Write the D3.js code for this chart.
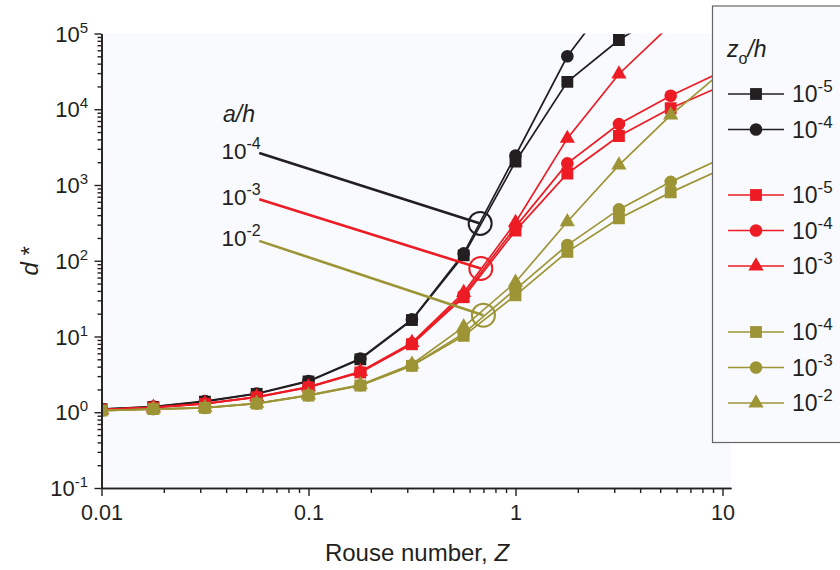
<!DOCTYPE html>
<html>
<head>
<meta charset="utf-8">
<script src="https://cdn.jsdelivr.net/npm/d3@7"></script>
<style>
  body { margin: 0; background: #fff; }
  svg { display: block; font-family: Arial, "Liberation Sans", Helvetica, sans-serif; }
</style>
</head>
<body>
<svg id="chart" width="840" height="570"></svg>
<script>
// ---- data ----
const Z = [0.01, 0.0178, 0.0316, 0.0562, 0.1, 0.178, 0.316, 0.562, 1, 1.78, 3.16, 5.62, 10];

// a/h = 1e-4 (black)
const black_zo1e5 = [1.1, 1.18, 1.38, 1.75, 2.55, 5.0, 16.5, 118, 2030, 23000, 82000, 220000, 600000];
const black_zo1e4 = [1.1, 1.19, 1.4, 1.77, 2.59, 5.12, 16.8, 125, 2450, 50000, 400000, 2000000, 10000000];
// a/h = 1e-3 (red)
const red_zo1e5 = [1.08, 1.15, 1.29, 1.57, 2.12, 3.35, 7.9, 33, 250, 1420, 4430, 10300, 20600];
const red_zo1e4 = [1.08, 1.16, 1.3, 1.59, 2.15, 3.4, 8.1, 35, 280, 1930, 6370, 15100, 31700];
const red_zo1e3 = [1.08, 1.16, 1.3, 1.6, 2.16, 3.45, 8.3, 38, 320, 4120, 29200, 130000, 500000];
// a/h = 1e-2 (olive)
const olive_zo1e4 = [1.05, 1.1, 1.14, 1.3, 1.66, 2.25, 4.1, 10.2, 35, 131, 362, 799, 1640];
const olive_zo1e3 = [1.05, 1.1, 1.14, 1.3, 1.67, 2.27, 4.15, 11, 42, 161, 476, 1100, 2270];
const olive_zo1e2 = [1.05, 1.1, 1.15, 1.31, 1.68, 2.3, 4.3, 13.4, 52, 327, 1830, 8380, 31600];

// annotation (a/h labels): line start and circled crossing point, in data units
const annotLabels = ["-4", "-3", "-2"];
const annotStartZ = [0.0578, 0.0578, 0.0578];
const annotStartD = [2640, 648, 183];
const annotCircleZ = [0.675, 0.68, 0.70];
const annotCircleD = [311, 79, 19.1];

const xTickValues = [0.01, 0.1, 1, 10];
const xTickLabels = ["0.01", "0.1", "1", "10"];
const yTickExps = [-1, 0, 1, 2, 3, 4, 5];

// ---- styles ----
const BLACK = "#231f20", RED = "#ed1c24", OLIVE = "#9d9436";
const BG = "#f8fafd";

const series = [
  { v: black_zo1e5, c: BLACK, s: d3.symbolSquare, lab: "-5" },
  { v: black_zo1e4, c: BLACK, s: d3.symbolCircle, lab: "-4" },
  null,
  { v: red_zo1e5, c: RED, s: d3.symbolSquare, lab: "-5" },
  { v: red_zo1e4, c: RED, s: d3.symbolCircle, lab: "-4" },
  { v: red_zo1e3, c: RED, s: d3.symbolTriangle, lab: "-3" },
  null,
  { v: olive_zo1e4, c: OLIVE, s: d3.symbolSquare, lab: "-4" },
  { v: olive_zo1e3, c: OLIVE, s: d3.symbolCircle, lab: "-3" },
  { v: olive_zo1e2, c: OLIVE, s: d3.symbolTriangle, lab: "-2" },
];
const annotColors = [BLACK, RED, OLIVE];
const symSize = s => s === d3.symbolSquare ? 140 : s === d3.symbolCircle ? 125 : 100;

const L = 101.5, R = 731, T = 33.5, B = 488;
const x = d3.scaleLog().domain([0.01, Math.pow(10, -2 + 3 * (R - L) / (722.5 - L))]).range([L, R]);
const y = d3.scaleLog().domain([0.1, 1e5]).range([B, T]);

const svg = d3.select("#chart");
svg.append("defs").append("clipPath").attr("id", "clip")
  .append("rect").attr("x", L).attr("y", T).attr("width", R - L).attr("height", B - T);

svg.append("rect").attr("x", L).attr("y", T).attr("width", R - L).attr("height", B - T).attr("fill", BG);

// ---- data series ----
const plot = svg.append("g").attr("clip-path", "url(#clip)");
const line = d3.line().x(d => x(d[0])).y(d => y(d[1]));
series.filter(s => s).forEach(s => {
  const pts = Z.map((z, i) => [z, s.v[i]]);
  plot.append("path").attr("d", line(pts)).attr("fill", "none")
    .attr("stroke", s.c).attr("stroke-width", 1.7);
  plot.selectAll(null).data(pts).enter().append("path")
    .attr("d", d3.symbol().type(s.s).size(symSize(s.s)))
    .attr("transform", d => `translate(${x(d[0])},${y(d[1])})`)
    .attr("fill", s.c);
});

// ---- annotation ----
svg.append("text").attr("x", 223).attr("y", 122).attr("font-size", 23)
  .attr("font-style", "italic").attr("fill", BLACK).text("a/h");
annotLabels.forEach((lab, i) => {
  const x0 = x(annotStartZ[i]), y0 = y(annotStartD[i]);
  const x1 = x(annotCircleZ[i]), y1 = y(annotCircleD[i]);
  svg.append("line").attr("x1", x0).attr("y1", y0).attr("x2", x1).attr("y2", y1)
    .attr("stroke", annotColors[i]).attr("stroke-width", 2.6);
  svg.append("circle").attr("cx", x1).attr("cy", y1).attr("r", 11.5)
    .attr("fill", "none").attr("stroke", annotColors[i]).attr("stroke-width", 2);
  const t = svg.append("text").attr("x", 221.5).attr("y", y0 + 5.6).attr("font-size", 22.5).attr("fill", BLACK);
  t.append("tspan").text("10");
  t.append("tspan").attr("dy", -10).attr("font-size", 16).text(lab);
});

// ---- axes ----
const AX = BLACK;
const gx = svg.append("g").attr("transform", `translate(0,${B})`);
const xMinor = [];
[0.01, 0.1, 1].forEach(b => { for (let k = 2; k <= 9; k++) xMinor.push(b * k); });
gx.call(d3.axisBottom(x).tickValues(xMinor).tickSize(5).tickSizeOuter(0).tickFormat(""));
gx.call(g => g.append("g").call(d3.axisBottom(x).tickValues(xTickValues).tickSize(8).tickSizeOuter(0)
  .tickFormat((d, i) => xTickLabels[i])));
gx.selectAll("path.domain").attr("stroke", AX).attr("stroke-width", 1.6);
gx.selectAll(".tick line").attr("stroke", AX).attr("stroke-width", 1.4);
gx.selectAll(".tick text").attr("font-size", 21.5).attr("fill", BLACK)
  .attr("font-family", "Arial, 'Liberation Sans', sans-serif").attr("dy", null).attr("y", 32);

const gy = svg.append("g").attr("transform", `translate(${L},0)`);
const yMinor = [];
yTickExps.slice(0, -1).forEach(e => { for (let k = 2; k <= 9; k++) yMinor.push(k * Math.pow(10, e)); });
gy.call(d3.axisLeft(y).tickValues(yMinor).tickSize(4).tickSizeOuter(0).tickFormat(""));
gy.call(g => g.append("g").call(d3.axisLeft(y).tickValues(yTickExps.map(e => Math.pow(10, e)))
  .tickSize(7).tickSizeOuter(0).tickFormat("")));
gy.selectAll("path.domain").attr("stroke", AX).attr("stroke-width", 1.6);
gy.selectAll(".tick line").attr("stroke", AX).attr("stroke-width", 1.4);
yTickExps.forEach(e => {
  const t = svg.append("text").attr("x", 88).attr("y", y(Math.pow(10, e)) + 8)
    .attr("text-anchor", "end").attr("font-size", 22).attr("fill", BLACK);
  t.append("tspan").text("10");
  t.append("tspan").attr("dy", -9).attr("font-size", 15).text(String(e));
});

// axis titles
const xt = svg.append("text").attr("x", 417).attr("y", 561).attr("text-anchor", "middle")
  .attr("font-size", 24).attr("fill", BLACK);
xt.append("tspan").text("Rouse number, ");
xt.append("tspan").attr("font-style", "italic").text("Z");

const yt = svg.append("text").attr("transform", `translate(38,${(T + B) / 2}) rotate(-90)`)
  .attr("text-anchor", "middle").attr("font-size", 24).attr("fill", BLACK);
yt.append("tspan").attr("font-style", "italic").text("d");
yt.append("tspan").text(" *");

// ---- legend ----
const lg = svg.append("g");
lg.append("rect").attr("x", 712.5).attr("y", 6).attr("width", 140).attr("height", 436.5)
  .attr("fill", BG).attr("stroke", "#666").attr("stroke-width", 1.2);
const lt = lg.append("text").attr("x", 727).attr("y", 57).attr("font-size", 23).attr("fill", BLACK);
lt.append("tspan").attr("font-style", "italic").text("z");
lt.append("tspan").attr("dy", 7).attr("font-size", 16).text("o");
lt.append("tspan").attr("dy", -7).attr("font-style", "italic").text("/h");
const rowY = [94, 129.5, 164, 195, 230.5, 266, 300, 332, 367.5, 403];
series.forEach((s, i) => {
  if (!s) return;
  const yy = rowY[i];
  lg.append("line").attr("x1", 728).attr("x2", 784).attr("y1", yy).attr("y2", yy)
    .attr("stroke", s.c).attr("stroke-width", 1.7);
  lg.append("path").attr("d", d3.symbol().type(s.s).size(symSize(s.s)))
    .attr("transform", `translate(756,${yy})`).attr("fill", s.c);
  const t = lg.append("text").attr("x", 792).attr("y", yy + 8).attr("font-size", 23).attr("fill", BLACK);
  t.append("tspan").text("10");
  t.append("tspan").attr("dy", -10).attr("font-size", 17).text(s.lab);
});
</script>
</body>
</html>
